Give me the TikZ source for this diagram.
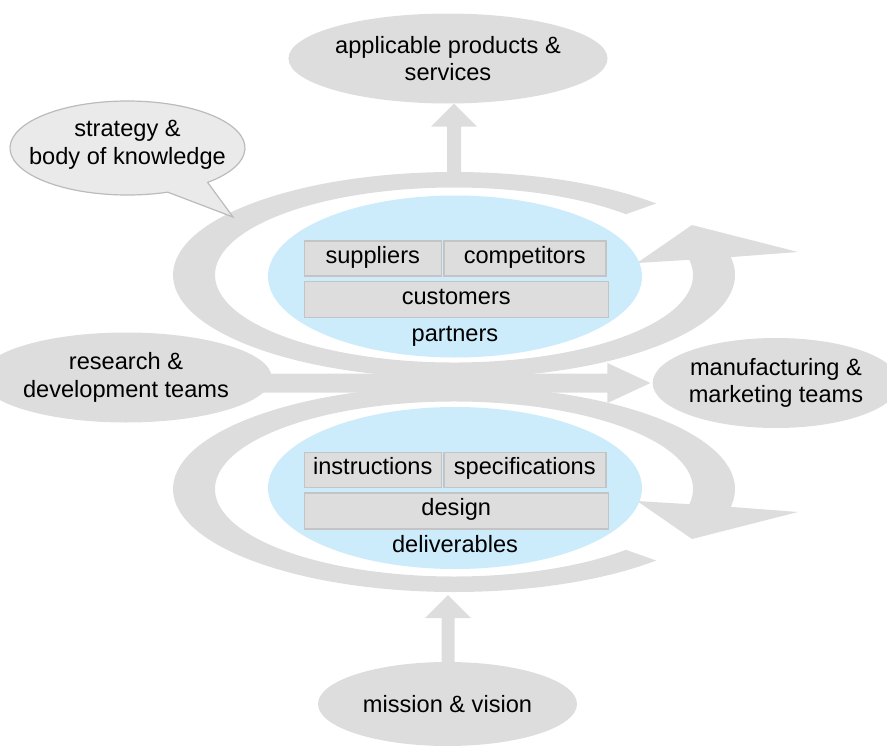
\documentclass[tikz,border=0pt]{standalone}
\usepackage{fontspec}
\setmainfont{Liberation Sans}
\usetikzlibrary{calc,shapes.geometric}
\definecolor{band}{HTML}{DDDDDD}
\definecolor{bubble}{HTML}{EAEAEA}
\definecolor{bubbleline}{HTML}{BBBBBB}
\definecolor{core}{HTML}{CCEBFB}
\definecolor{cell}{HTML}{DDDDDD}
\definecolor{cellline}{HTML}{C4C4C4}
\begin{document}
\begin{tikzpicture}[x=1pt,y=-1pt,
  every node/.style={font=\fontsize{23.6}{27.5}\selectfont, text=black, inner sep=0pt, align=center},
  blob/.style={ellipse, fill=band},
  coreell/.style={ellipse, fill=core, minimum width=374pt, minimum height=162pt},
  cellbox/.style={rectangle, fill=cell, draw=cellline, line width=1.5pt, anchor=north west,
    text height=15pt, text depth=5pt},
  ring/.style={fill=band}
]
\useasboundingbox (0,0) rectangle (887,755);

% outer labels
\node[blob, minimum width=250pt, minimum height=90pt] (apps) at (448,58.5) {applicable products \&\\services};
\node[blob, minimum width=236pt, minimum height=90pt] (rnd) at (126,377.5) {research \&\\development teams};
\node[blob, minimum width=222pt, minimum height=90pt] (mfg) at (776,383) {manufacturing \&\\marketing teams};
\node[blob, minimum width=259pt, minimum height=84pt] (mission) at (447.5,704) {mission \& vision};

% upper circular arrow
\coordinate (c1) at (454,275);
\fill[ring] ($(c1)+(-44:281 and 103)$)
  arc[start angle=-44,end angle=-370,x radius=281,y radius=103]
  -- (798,252) -- (692,225) -- (637,263)
  -- ($(c1)+(-370:239 and 87.5)$)
  arc[start angle=-370,end angle=-44,x radius=239,y radius=87.5] -- cycle;

% lower circular arrow
\coordinate (c2) at (454,489);
\fill[ring] ($(c2)+(44:281 and 103)$)
  arc[start angle=44,end angle=370,x radius=281,y radius=103]
  -- (798,512) -- (692,539) -- (637,501)
  -- ($(c2)+(370:239 and 87.5)$)
  arc[start angle=370,end angle=44,x radius=239,y radius=87.5] -- cycle;

% straight block arrows
\coordinate (r1top) at (454,176);
\coordinate (r2bot) at (448,595);
\fill[ring] let \p1=(r1top), \p2=(r1top |- apps.south) in
  (\x1-7,\y1) -- (\x1-7,\y2-23) -- (\x1-23,\y2-23) -- (\x2,\y2)
  -- (\x1+23,\y2-23) -- (\x1+7,\y2-23) -- (\x1+7,\y1) -- cycle;
\fill[ring] let \p1=(mission.north), \p2=(r2bot) in
  (\x2-6.5,\y1-4) -- (\x2-6.5,\y2-23) -- (\x2-23,\y2-23) -- (\x2,\y2)
  -- (\x2+23,\y2-23) -- (\x2+6.5,\y2-23) -- (\x2+6.5,\y1-4) -- cycle;
\fill[ring] let \p1=(rnd.east |- mfg.west), \p2=(mfg.west) in
  (\x1-10,\y1+9.5) -- (\x2-45,\y1+9.5) -- (\x2-45,\y1+20) -- (\x2-2,\y1)
  -- (\x2-45,\y1-20) -- (\x2-45,\y1-9.5) -- (\x1-10,\y1-9.5) -- cycle;

% inner cores
\node[coreell] (partners) at (455,276.5) {};
\node[coreell] (deliv) at (455,488) {};

\node[cellbox, minimum width=137pt, minimum height=35pt] (sup) at (303.5,240) {suppliers};
\node[cellbox, minimum width=162pt, minimum height=35pt] (comp) at (443,240) {competitors};
\node[cellbox, minimum width=304pt, minimum height=36pt] (cust) at (303.5,280.5) {customers};
\node[anchor=base] (partl) at (455,341.5) {partners};

\node[cellbox, minimum width=137pt, minimum height=35pt] (ins) at (303.5,451.5) {instructions};
\node[cellbox, minimum width=162pt, minimum height=35pt] (spec) at (443,451.5) {specifications};
\node[cellbox, minimum width=304pt, minimum height=36pt] (des) at (303.5,492) {design};
\node[anchor=base] (delivl) at (455,552.5) {deliverables};

% callout bubble
\coordinate (cb) at (127.5,148);
\filldraw[fill=bubble, draw=bubbleline, line width=1.2pt]
  ($(cb)+(47:117.5 and 47)$)
  arc[start angle=47,end angle=-290,x radius=117.5,y radius=47]
  -- (233,217) -- cycle;
\node (strat) at (127.5,145) {strategy \&\\body of knowledge};
\end{tikzpicture}
\end{document}
